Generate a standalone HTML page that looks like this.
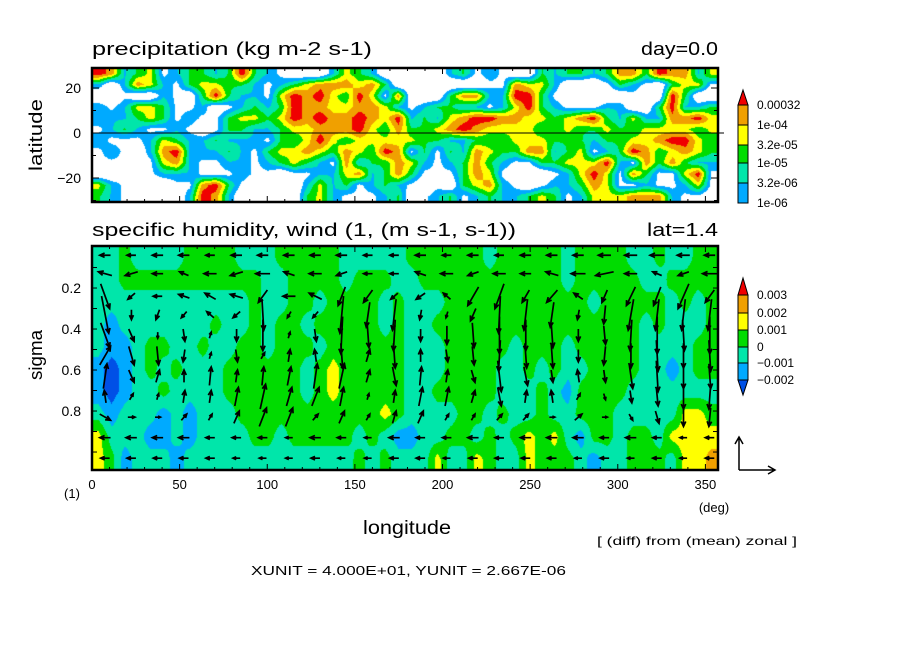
<!DOCTYPE html>
<html><head><meta charset="utf-8"><style>
html,body{margin:0;padding:0;background:#fff;}
#wrap{position:relative;width:904px;height:654px;overflow:hidden;background:#fff;}
canvas{position:absolute;}
svg{position:absolute;left:0;top:0;}
text{font-family:"Liberation Sans",sans-serif;fill:#000;}
</style></head><body>
<div id="wrap">
<canvas id="cTop" width="626" height="134" style="left:92px;top:68px"></canvas>
<canvas id="cBot" width="626" height="224" style="left:92px;top:246px"></canvas>
<svg id="svg" width="904" height="654" xmlns="http://www.w3.org/2000/svg">
<text x="92" y="55" font-size="18" textLength="280" lengthAdjust="spacingAndGlyphs">precipitation (kg m-2 s-1)</text>
<text x="641" y="55" font-size="18" textLength="77" lengthAdjust="spacingAndGlyphs">day=0.0</text>
<text x="92" y="236" font-size="18" textLength="424" lengthAdjust="spacingAndGlyphs">specific humidity, wind (1, (m s-1, s-1))</text>
<text x="647" y="236" font-size="18" textLength="71" lengthAdjust="spacingAndGlyphs">lat=1.4</text>
<text transform="translate(42,135) rotate(-90)" text-anchor="middle" font-size="18" textLength="72" lengthAdjust="spacingAndGlyphs">latitude</text>
<text transform="translate(42,355) rotate(-90)" text-anchor="middle" font-size="18" textLength="50" lengthAdjust="spacingAndGlyphs">sigma</text>
<text x="407" y="534" text-anchor="middle" font-size="19" textLength="88" lengthAdjust="spacingAndGlyphs">longitude</text>
<text x="714" y="512" text-anchor="middle" font-size="13">(deg)</text>
<text x="72" y="498" text-anchor="middle" font-size="13">(1)</text>
<text x="597" y="545" font-size="12" textLength="200" lengthAdjust="spacingAndGlyphs">[ (diff) from (mean) zonal ]</text>
<text x="251" y="575" font-size="13" textLength="315" lengthAdjust="spacingAndGlyphs">XUNIT = 4.000E+01, YUNIT = 2.667E-06</text>
<g id="gArrows"></g>
<g id="gAxes"></g>
<g id="gBars"></g>
<g stroke="#000" stroke-width="1.5" fill="none">
<path d="M739,470 L739,437 M735,444 L739,437 L743,444"/>
<path d="M739,470 L775,470 M768,466 L775,470 L768,474"/>
</g>
</svg>
</div>
<script>
// ---- precipitation data (level index 0..6 on 48 lon x 12 lat grid, north to south) ----
const precipLevels = ["1e-06","3.2e-06","1e-05","3.2e-05","1e-04","0.00032"];
const precipRows = [
"652341233236321000243201000231210032332355365524",
"202542134433212345554530000000115442000132103441",
"001002103632214656436415000355226631000001006300",
"212443112012323655445542123322124632111220036223",
"222343121134434656556546232456655443456324225564",
"123211210133223445556435334565444433433433444434",
"211124322322213346434444433223334443332334456643",
"121025622232134454354365131325433552341236534543",
"111014521122123432152335421235321133444621535322",
"001012221112110112245235311135410001246415311461",
"421000115631001024231232101034521012235411211241",
"321100026520001034211123012312322343124445552110"
];
// ---- specific humidity anomaly (level index 0..5 on 48 lon x 10 sigma rows) ----
const humidLevels = ["-0.002","-0.001","0","0.001","0.002","0.003"];
const humidRows = [
"223222233332223333322222333333233333233332232233",
"223333333333322333323332233333333333233333223333",
"222222222222322332333323222333333333332333332323",
"212222222322323323333323223333333333333333232223",
"211233223223323332333333222333332333233333222233",
"101232322233333323433333222333322323223333221233",
"101223222233333323433333223333322232133332222222",
"212221212223333333333343222233232232233322222443",
"422211212222332333332321122332323434213323324444",
"431222122222222222223232224224322433321223332445"
];
// ---- wind vectors: u (m/s), w (1e-6 s-1) at 24 longitudes x 11 sigma levels ----
const windLon = [7.5,22.5,37.5,52.5,67.5,82.5,97.5,112.5,127.5,142.5,157.5,172.5,187.5,202.5,217.5,232.5,247.5,262.5,277.5,292.5,307.5,322.5,337.5,352.5];
const windSigma = [0.04,0.13,0.24,0.33,0.43,0.53,0.63,0.73,0.83,0.93,1.03];
const windU = [
[-12,-10,-12,-12,-10,-12,-12,-12,-12,-12,-10,-10,-12,-10,-12,-10,-12,-12,-12,-14,-14,-16,-14,-12],
[-15,-14,-12,-10,-14,-14,-16,-12,-14,-12,-10,-10,-12,-14,-12,-14,-12,-14,-16,-20,-14,-10,-12,-16],
[10,-8,-10,-12,-12,-14,-10,-14,-14,-8,-10,-8,-10,-8,-12,-10,-8,-12,-10,-6,-10,-8,-12,-10],
[8,0,-4,-6,-8,-8,2,-4,-6,-4,-4,-4,-2,-2,-6,-2,-4,-4,-2,-2,-6,-4,-4,-4],
[10,6,0,2,2,0,0,2,2,-2,2,-2,0,0,2,0,0,2,0,2,-2,0,2,0],
[12,6,2,-2,2,2,4,2,-2,2,4,2,0,2,2,-2,2,2,0,-2,0,2,0,2],
[4,6,4,0,2,2,2,4,4,6,4,4,2,2,4,4,4,2,-2,2,4,2,0,2],
[-2,4,2,2,2,4,6,6,8,4,2,2,4,4,4,4,2,-2,4,2,2,2,0,-2],
[12,8,6,6,4,6,8,8,6,6,4,4,6,4,4,6,6,6,8,6,4,4,0,-2],
[-12,-12,-12,-12,-10,-10,-10,-8,-12,-10,-8,-12,-10,-10,-12,-10,-12,-12,-12,-10,-12,-10,-8,-10],
[-10,-10,-10,-10,-10,-8,-8,-8,-10,-8,-8,-10,-10,-8,-10,-10,-10,-10,-8,-10,-8,-10,-8,-10]
];
const windW = [
[0,0,0,0,0,0,0,0,0,0,0,0,0,0,0,0,0,0,0,0,0,0,0,0],
[0.3,-0.3,0,0.3,0,-0.3,0,0.3,0,-0.3,0,0,0.3,0,-0.3,0,0,0.3,0,-0.3,0,0.3,-0.3,0],
[-2,-0.5,0,0.3,0.5,0.3,-1,0,0.5,-1.5,-1,-0.5,-0.5,0.5,-1.5,-2,-1,-1,0.5,-1,-1.5,-1.5,-2,-1],
[-3,-0.8,-0.8,-0.5,0.5,-0.5,-2.5,-0.5,-0.5,-3,-2,-2.5,-0.8,-0.5,-1,-3,-2.5,-2,-0.8,-1.5,-2.5,-2.5,-2.5,-2.5],
[-2,-1,-0.5,-1,0.5,-1,-2.5,0.5,-1,-3,-2,-2.5,-1,-1.5,-2,-3,-2.5,-2,-1,-1.5,-2.5,-3,-2.5,-3],
[1.5,-1.5,-1.5,-1,0.5,-1,0.5,1,1,-2,1,-2,1,-1,-1.5,-2.5,-2,-2,-1,-1.5,-2,-2.5,-2,-2.5],
[2,-1,1,1,1.5,1,1.5,1.5,2,2,1,-1.5,1.5,1,-1,-2.5,-1.5,-1,1,-1,-2,-2.5,-2,-2],
[1,0.5,0.5,1,1,1.5,2,1.5,1.5,1.5,0.5,1,1.5,1.5,1,-1.5,1,1,0.5,-0.5,-1,-1.5,-2,-2],
[-0.5,0,0,0.5,0.5,1,1.5,1.5,0.5,1,0.5,1,1,0.5,0.5,0.5,0.5,0,0.5,0,-0.5,-1,-1.5,-1.5],
[0,0,0,0,0,0,0,0,0,0,0,0,0,0,0,0,0,0,0,0,0,0,0,0],
[0,0,0,0,0,0,0,0,0,0,0,0,0,0,0,0,0,0,0,0,0,0,0,0]
];
const lonTicks = [0,50,100,150,200,250,300,350];
const latTicks = [20,0,-20];
const sigmaTicks = [0.2,0.4,0.6,0.8];

const precipColors = ["#ffffff","#00aaff","#00e6aa","#00dc00","#ffff00","#f0a000","#f00000"];
const humidColors = ["#0050e6","#00aaff","#00e6aa","#00dc00","#ffff00","#f0a000","#f00000"];
const NS = "http://www.w3.org/2000/svg";
const P = {x0:92,x1:718};
const lonMax = 357.1875;
function xLon(l){return P.x0 + l/lonMax*(P.x1-P.x0);}
function yLat(l){return 133 - l*2.25;}
function ySig(s){return 246 + (s+0.005)*205;}

function drawField(id, rows, colors, thr){
  const cv=document.getElementById(id), ctx=cv.getContext('2d');
  const W=cv.width,H=cv.height,nr=rows.length,nc=rows[0].length;
  const g=rows.map(r=>r.split('').map(Number));
  const img=ctx.createImageData(W,H);
  const rgb=colors.map(c=>[parseInt(c.substr(1,2),16),parseInt(c.substr(3,2),16),parseInt(c.substr(5,2),16)]);
  for(let py=0;py<H;py++){
    let gy=(py+0.5)/H*nr-0.5; gy=Math.max(0,Math.min(nr-1,gy));
    const y0=Math.floor(gy),y1=Math.min(nr-1,y0+1),fy=gy-y0;
    for(let px=0;px<W;px++){
      let gx=(px+0.5)/W*nc-0.5; gx=Math.max(0,Math.min(nc-1,gx));
      const x0=Math.floor(gx),x1=Math.min(nc-1,x0+1),fx=gx-x0;
      const v=(g[y0][x0]*(1-fx)+g[y0][x1]*fx)*(1-fy)+(g[y1][x0]*(1-fx)+g[y1][x1]*fx)*fy;
      let k=0; while(k<thr.length && v>=thr[k]) k++;
      k=Math.min(colors.length-1,k);
      const c=rgb[k],i=(py*W+px)*4;
      img.data[i]=c[0];img.data[i+1]=c[1];img.data[i+2]=c[2];img.data[i+3]=255;
    }
  }
  ctx.putImageData(img,0,0);
}
drawField('cTop',precipRows,precipColors,[1.3,2.1,2.9,3.7,4.5,5.4]);
drawField('cBot',humidRows,humidColors.slice(0,6),[0.55,1.55,2.55,3.55,4.55]);

function el(tag,attrs,parent){const e=document.createElementNS(NS,tag);for(const k in attrs)e.setAttribute(k,attrs[k]);parent.appendChild(e);return e;}

// arrows
const gA=document.getElementById('gArrows');
for(let j=0;j<windSigma.length;j++){
  for(let i=0;i<windLon.length;i++){
    const cx=xLon(windLon[i]), cy=ySig(windSigma[j]);
    const dx=windU[j][i]*0.9, dy=-windW[j][i]*12.4;
    const L=Math.hypot(dx,dy); if(L<1)continue;
    const x1=cx-dx/2,y1=cy-dy/2,x2=cx+dx/2,y2=cy+dy/2;
    const ux=dx/L,uy=dy/L,h=Math.min(5,L*0.45);
    const a=el('path',{d:`M${x1},${y1}L${x2},${y2}M${x2-h*ux+h*0.45*uy},${y2-h*uy-h*0.45*ux}L${x2},${y2}L${x2-h*ux-h*0.45*uy},${y2-h*uy+h*0.45*ux}`,stroke:'#000','stroke-width':1.7,fill:'none'},gA);
    
    
  }
}

// axes
const gX=document.getElementById('gAxes');
function frame(y0,y1,name){
  const r=el('rect',{x:P.x0,y:y0,width:P.x1-P.x0,height:y1-y0,fill:'none',stroke:'#000','stroke-width':2.5},gX);
  
  
}
frame(68,202,'precip-frame');frame(246,470,'humidity-frame');
const eq=el('line',{x1:P.x0,y1:yLat(0),x2:724,y2:yLat(0),stroke:'#000','stroke-width':1},gX);


for(let l=0;l<=350;l+=10){
  const x=xLon(l),len=(l%50===0)?6:3;
  el('line',{x1:x,y1:68,x2:x,y2:68+len,stroke:'#000','stroke-width':1},gX);
  el('line',{x1:x,y1:202,x2:x,y2:202-len,stroke:'#000','stroke-width':1},gX);
  el('line',{x1:x,y1:246,x2:x,y2:246+len,stroke:'#000','stroke-width':1},gX);
  el('line',{x1:x,y1:470,x2:x,y2:470-len,stroke:'#000','stroke-width':1},gX);
}
for(let l=-30;l<=20;l+=10){
  const y=yLat(l),len=(l%20===0)?7:4;
  el('line',{x1:P.x0,y1:y,x2:P.x0+len,y2:y,stroke:'#000','stroke-width':1},gX);
  el('line',{x1:P.x1,y1:y,x2:P.x1-len,y2:y,stroke:'#000','stroke-width':1},gX);
}
for(let s=0.1;s<1.0;s+=0.1){
  const y=ySig(s);
  el('line',{x1:P.x0,y1:y,x2:P.x0+5,y2:y,stroke:'#000','stroke-width':1},gX);
  el('line',{x1:P.x1,y1:y,x2:P.x1-5,y2:y,stroke:'#000','stroke-width':1},gX);
}
lonTicks.forEach(l=>{
  const t=el('text',{x:xLon(l),y:489,'text-anchor':'middle','font-size':13},gX);t.textContent=l;
  
  
});
latTicks.forEach(l=>{
  const t=el('text',{x:81,y:yLat(l)+5,'text-anchor':'end','font-size':14},gX);t.textContent=(l<0?'\u2212':'')+Math.abs(l);
  
  
});
sigmaTicks.forEach(s=>{
  const t=el('text',{x:81,y:ySig(s)+5,'text-anchor':'end','font-size':14},gX);t.textContent=s.toFixed(1);
  
  
});

// colorbars
const gB=document.getElementById('gBars');
function colorbar(bounds,cols,labels,triTop,triBot,name){
  const xa=738,xb=748;
  for(let i=0;i<bounds.length-1;i++){
    const ya=bounds[i],yb=bounds[i+1];let s;
    if(i===0&&triTop) s=el('polygon',{points:`${(xa+xb)/2},${ya} ${xb},${yb} ${xa},${yb}`,fill:cols[i],stroke:'#000','stroke-width':1},gB);
    else if(i===bounds.length-2&&triBot) s=el('polygon',{points:`${xa},${ya} ${xb},${ya} ${(xa+xb)/2},${yb}`,fill:cols[i],stroke:'#000','stroke-width':1},gB);
    else s=el('rect',{x:xa,y:ya,width:xb-xa,height:yb-ya,fill:cols[i],stroke:'#000','stroke-width':1},gB);
    
    
  }
  labels.forEach((lb,i)=>{
    const t=el('text',{x:757,y:bounds[i+1]+4,'font-size':12},gB);
    if(/^-/.test(lb)) t.textContent='\u2212'+lb.slice(1);
    else t.textContent=lb;
    
    
  });
}
colorbar([90,105,125,145,163,183,203],["#f00000","#f0a000","#ffff00","#00dc00","#00e6aa","#00aaff"],precipLevels.slice().reverse(),true,false,'precip-colorbar');
colorbar([278,295,313,330,347,363,380,395],["#f00000","#f0a000","#ffff00","#00dc00","#00e6aa","#00aaff","#0050e6"],humidLevels.slice().reverse(),true,true,'humidity-colorbar');
</script>
</body></html>
